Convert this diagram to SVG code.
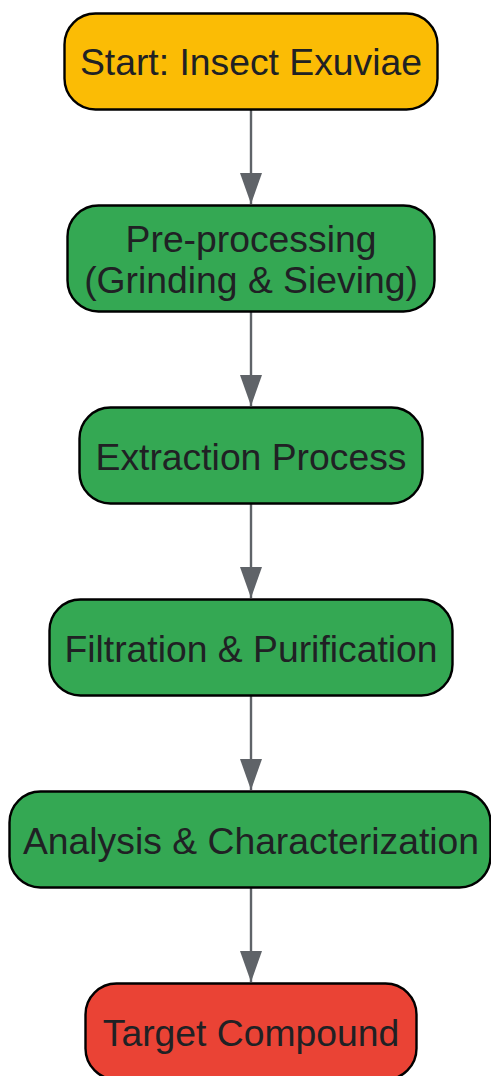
<svg xmlns="http://www.w3.org/2000/svg" width="491" height="1076" viewBox="0 0 491 1076">
<defs>
<marker id="arrow" markerUnits="userSpaceOnUse" markerWidth="31" markerHeight="22" refX="31" refY="11" orient="auto" viewBox="0 0 31 22">
<path d="M0,0 L31,11 L0,22 Z" fill="#5f6368"/>
</marker>
</defs>
<style>
.node rect{stroke:#000;stroke-width:2.4}
.node text{font-family:"Liberation Sans",Arial,sans-serif;font-size:37.3px;fill:#202124;text-anchor:middle}
.edge{stroke:#5f6368;stroke-width:2.4;fill:none;marker-end:url(#arrow)}
</style>
<rect width="491" height="1076" fill="#fff"/>
<g id="connectors">
<path class="edge" d="M251,109 L251,204"/>
<path class="edge" d="M251,311 L251,406"/>
<path class="edge" d="M251,503 L251,598"/>
<path class="edge" d="M251,695 L251,790"/>
<path class="edge" d="M251,887 L251,982"/>
</g>
<g id="start" class="node">
<rect x="64.5" y="13.5" width="373" height="96" rx="31" fill="#FBBC05"/>
<text x="251" y="75">Start: Insect Exuviae</text>
</g>
<g id="preprocessing" class="node">
<rect x="67.5" y="205.5" width="367" height="106" rx="31" fill="#34A853"/>
<text x="251" y="252">Pre-processing</text>
<text x="251" y="293">(Grinding &amp; Sieving)</text>
</g>
<g id="extraction" class="node">
<rect x="79.5" y="407.5" width="343" height="96" rx="31" fill="#34A853"/>
<text x="251" y="470">Extraction Process</text>
</g>
<g id="filtration" class="node">
<rect x="49.5" y="599.5" width="403" height="96" rx="31" fill="#34A853"/>
<text x="251" y="662">Filtration &amp; Purification</text>
</g>
<g id="analysis" class="node">
<rect x="9.5" y="791.5" width="481" height="96" rx="31" fill="#34A853"/>
<text x="251" y="854">Analysis &amp; Characterization</text>
</g>
<g id="target" class="node">
<rect x="85.5" y="983.5" width="331" height="96" rx="31" fill="#EA4335"/>
<text x="251" y="1046">Target Compound</text>
</g>
</svg>
